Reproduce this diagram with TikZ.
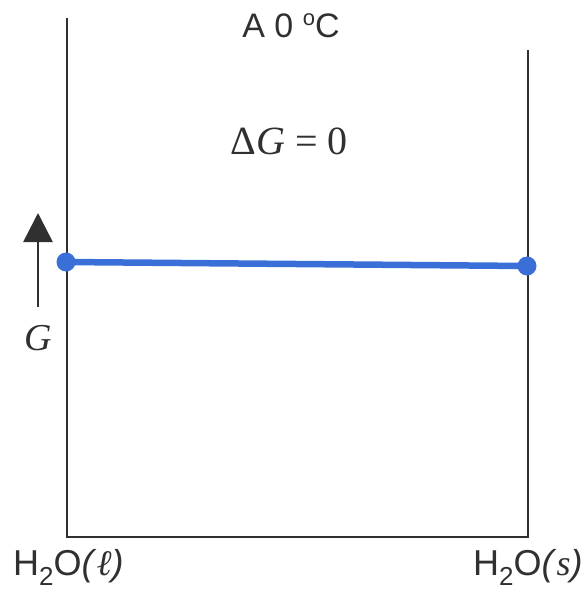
\documentclass[tikz,border=0pt]{standalone}
\usepackage{fontspec}
\usetikzlibrary{arrows.meta}
\setmainfont{Liberation Sans}
\newfontfamily\seriff{Liberation Serif}
\definecolor{lineg}{HTML}{303030}
\definecolor{eqblue}{HTML}{3A6FD8}
\tikzset{
  axisline/.style={draw=lineg, line width=2pt},
  eqdot/.style={circle, fill=eqblue, inner sep=0pt, minimum size=19pt},
  lbl/.style={inner sep=0pt, text=lineg},
}
\begin{document}
\begin{tikzpicture}[x=1pt,y=-1pt]
\useasboundingbox (0,0) rectangle (582,595);
% frame
\coordinate (lt) at (67,18);
\coordinate (lb) at (67,537);
\coordinate (rb) at (528,537);
\coordinate (rt) at (528,50);
\draw[axisline] (lt) -- (lb) -- (rb) -- (rt);
% equilibrium line
\node[eqdot] (dl) at (66,262) {};
\node[eqdot] (dr) at (527,266) {};
\draw[eqblue, line width=6.5pt] (dl.center) -- (dr.center);
% G arrow
\coordinate (ab) at (38,307);
\coordinate (at) at (38,213);
\draw[lineg, line width=2.6pt, -{Triangle[length=29pt,width=29pt]}] (ab) -- (at);
\node[lbl, anchor=base] (g) at (38,350) {\fontsize{38}{38}\selectfont\seriff\itshape G};
% texts
\node[lbl, anchor=base] (title) at (291,37) {\fontsize{34}{34}\selectfont A 0 \raisebox{0.35em}{\fontsize{22}{22}\selectfont o}C};
\node[lbl, anchor=base] (dg) at (289,154) {\fontsize{40}{40}\selectfont\seriff Δ\textit{G} = 0};
\node[lbl, anchor=base west] (hl) at (13,575) {\fontsize{36}{36}\selectfont H\raisebox{-0.3em}{\fontsize{26}{26}\selectfont 2}O\textit{(}{\seriff\itshape ℓ}\textit{)}};
\node[lbl, anchor=base west] (hs) at (473,575) {\fontsize{36}{36}\selectfont H\raisebox{-0.3em}{\fontsize{26}{26}\selectfont 2}O\textit{(}{\seriff\itshape s}\textit{)}};
\end{tikzpicture}
\end{document}
